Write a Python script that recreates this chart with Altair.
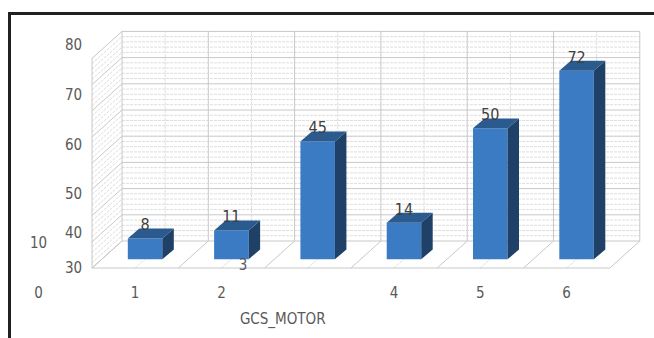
import altair as alt
import pandas as pd

# ---- data ----
categories = [1, 2, 3, 4, 5, 6]
values = [8, 11, 45, 14, 50, 72]
x_labels = ["1", "2", "", "4", "5", "6"]
stray_x_label = "3"
stray_x_at = (1.75, 1.1)
y_labels = ["80", "70", "60", "50", "40", "30"]
y_label_at = [85.1, 66.0, 46.9, 28.1, 13.2, 0.0]
stray_y_labels = ["10", "0"]
stray_y_at = [9.7, -9.5]
x_title = "GCS_MOTOR"
grid_max = 80
grid_major = 10
grid_minor = 2

# ---- layout constants ----
W, H = 654, 338
ORIGIN_X, ORIGIN_Y = 92, 268      # front-left floor corner in pixels
CAT_PX, UNIT_PX = 86.3, 2.62      # pixels per category / per value unit
FDX, FDY = 30 / CAT_PX, 27 / UNIT_PX   # floor depth offsets
BX, BW, BY = 0.115, 0.40, 3.3          # bar placement on the floor
BDX, BDY = 0.133, 3.8                  # bar depth offsets
N = len(categories)

xs = alt.Scale(domain=[-ORIGIN_X / CAT_PX, (W - ORIGIN_X) / CAT_PX], nice=False, zero=False)
ys = alt.Scale(domain=[(ORIGIN_Y - H) / UNIT_PX, ORIGIN_Y / UNIT_PX], nice=False, zero=False)

MAJOR, MINOR = "#c8c8c8", "#dedede"
FONT = "Liberation Sans Narrow, DejaVu Sans Condensed, sans-serif"

# ---- grid segments (walls and floor) ----
major, minor = [], []
for v in range(0, grid_max + 1, grid_minor):
    dst = major if v % grid_major == 0 else minor
    dst.append((FDX, FDY + v, N + FDX, FDY + v))        # back wall horizontal
    dst.append((0, v, FDX, FDY + v))                     # left wall diagonal
for k in range(0, 2 * N + 1):
    dst = major if k % 2 == 0 else minor
    xk = k / 2
    dst.append((FDX + xk, FDY, FDX + xk, FDY + grid_max))  # back wall vertical
    dst.append((xk, 0, xk + FDX, FDY))                     # floor diagonal
major.append((0, 0, 0, grid_max))
major.append((0, 0, N, 0))
cols = ["x", "y", "x2", "y2"]


def rules(rows, color, dash):
    kw = {"strokeWidth": 1, "color": color}
    if dash:
        kw["strokeDash"] = dash
    return alt.Chart(pd.DataFrame(rows, columns=cols)).mark_rule(**kw).encode(
        x=alt.X("x:Q", scale=xs, axis=None),
        y=alt.Y("y:Q", scale=ys, axis=None),
        x2="x2:Q",
        y2="y2:Q",
    )


grid_minor_l = rules(minor, MINOR, [3, 1])
grid_major_l = rules(major, MAJOR, None)

# ---- bars ----
front_rows, side_rows, top_rows, label_rows = [], [], [], []
for c, v in zip(categories, values):
    xc = c - 0.5 + BX
    xl, xr = xc - BW / 2, xc + BW / 2
    y0, y1 = BY, BY + v
    front_rows.append({"bar": c, "x": xl, "x2": xr, "y": y0, "y2": y1})
    side_rows += [
        {"bar": c, "x": xr, "lo": y0, "hi": y1},
        {"bar": c, "x": xr + BDX, "lo": y0 + BDY, "hi": y1 + BDY},
    ]
    top_rows += [
        {"bar": c, "x": xl, "lo": y1, "hi": y1},
        {"bar": c, "x": xl + BDX, "lo": y1, "hi": y1 + BDY},
        {"bar": c, "x": xr, "lo": y1, "hi": y1 + BDY},
        {"bar": c, "x": xr + BDX, "lo": y1 + BDY, "hi": y1 + BDY},
    ]
    label_rows.append({"x": xc, "y": y1 + BDY + 1.2, "t": str(v)})

front = alt.Chart(pd.DataFrame(front_rows)).mark_rect(color="#3b7bc4").encode(
    x=alt.X("x:Q", scale=xs, axis=None), x2="x2:Q",
    y=alt.Y("y:Q", scale=ys, axis=None), y2="y2:Q",
)
side = alt.Chart(pd.DataFrame(side_rows)).mark_area(color="#1f4167", opacity=1).encode(
    x=alt.X("x:Q", scale=xs, axis=None),
    y=alt.Y("lo:Q", scale=ys, axis=None), y2="hi:Q",
    detail="bar:N",
)
top = alt.Chart(pd.DataFrame(top_rows)).mark_area(color="#2a5a8e", opacity=1).encode(
    x=alt.X("x:Q", scale=xs, axis=None),
    y=alt.Y("lo:Q", scale=ys, axis=None), y2="hi:Q",
    detail="bar:N",
)

data_labels = alt.Chart(pd.DataFrame(label_rows)).mark_text(
    font=FONT, fontSize=16, color="#404040", baseline="middle", align="center"
).encode(
    x=alt.X("x:Q", scale=xs, axis=None),
    y=alt.Y("y:Q", scale=ys, axis=None),
    text="t:N",
)

# ---- axis texts ----
xl_rows = [{"x": c - 0.5, "y": -9.5, "t": t} for c, t in zip(categories, x_labels) if t]
xl_rows.append({"x": stray_x_at[0], "y": stray_x_at[1], "t": stray_x_label})
yl_rows = [{"x": -0.214, "y": p, "t": t} for t, p in zip(y_labels, y_label_at)]
yl_rows += [{"x": -0.62, "y": p, "t": t} for t, p in zip(stray_y_labels, stray_y_at)]
axis_df = pd.DataFrame(xl_rows + yl_rows)

axis_text = alt.Chart(axis_df).mark_text(
    font=FONT, fontSize=15, color="#595959", baseline="middle", align="center"
).encode(
    x=alt.X("x:Q", scale=xs, axis=None),
    y=alt.Y("y:Q", scale=ys, axis=None),
    text="t:N",
)

title_text = alt.Chart(pd.DataFrame({"x": [2.21], "y": [-19.5], "t": [x_title]})).mark_text(
    font=FONT, fontSize=15, color="#595959", baseline="middle", align="center"
).encode(
    x=alt.X("x:Q", scale=xs, axis=None),
    y=alt.Y("y:Q", scale=ys, axis=None),
    text="t:N",
)

# ---- frame ----
dummy = pd.DataFrame({"a": [0]})
frame_left = alt.Chart(dummy).mark_rule(color="#231f20", strokeWidth=3).encode(
    x=alt.value(9.5), y=alt.value(12), y2=alt.value(H)
)
frame_top = alt.Chart(dummy).mark_rule(color="#231f20", strokeWidth=3).encode(
    x=alt.value(8), x2=alt.value(W), y=alt.value(13.5)
)

chart = alt.layer(
    grid_minor_l, grid_major_l, front, side, top, data_labels, axis_text, title_text,
    frame_left, frame_top
).properties(
    width=W, height=H, padding=0, autosize=alt.AutoSizeParams(type="none"),
    background="white",
).configure_view(strokeWidth=0)

chart.save("out.html", embed_options={"renderer": "svg", "actions": False})
